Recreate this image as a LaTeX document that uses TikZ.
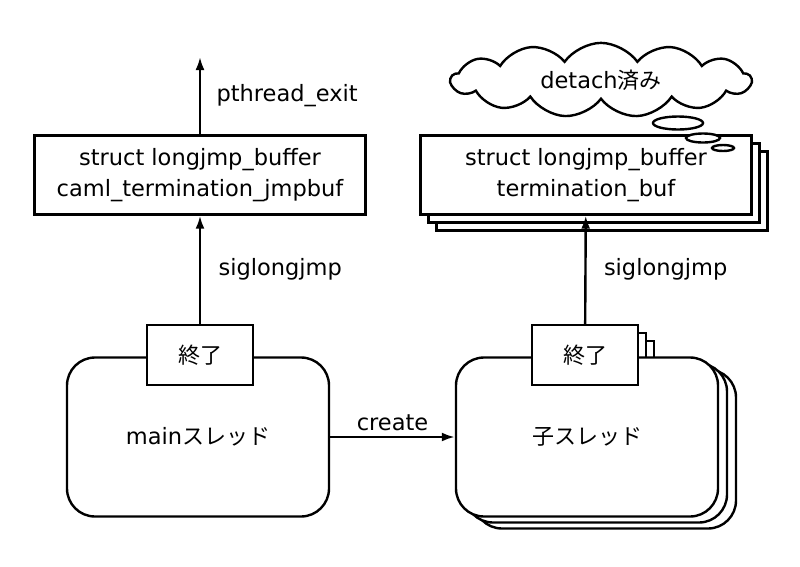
\documentclass[tikz,border=0pt]{standalone}
\usepackage{fontspec}
\setmainfont{DejaVu Sans}
\newfontfamily\jp{Noto Sans CJK JP}
\usetikzlibrary{arrows.meta, shapes.symbols, shapes.geometric, positioning}

\begin{document}
\begin{tikzpicture}[->,>={Latex[length=13pt,width=9pt]},x=1pt,y=-1pt,line width=2.4pt,
	every node/.style={font=\fontsize{22.5}{31}\selectfont},
	jtext/.style={font=\jp\fontsize{22}{31}\selectfont},
	buf/.style={draw,fill=white,minimum width=331pt,minimum height=79pt,align=center,inner sep=0pt},
	thr/.style={draw,fill=white,rounded corners=28pt,minimum width=262pt,minimum height=159pt},
	fin/.style={draw,fill=white,minimum width=106pt,minimum height=60pt,jtext},
	bubble/.style={draw,fill=white,ellipse,inner sep=0pt}]
			\useasboundingbox (0,0) rectangle (800,566);
			% main thread
			\node[thr] (mainT) at (198,437) {main{\jp\fontsize{22}{31}\selectfont スレッド}};
			\node[fin] (mainF) at (200,355) {終了};
			\node[buf] (mainB) at (200,175) {struct longjmp\_buffer\\caml\_termination\_jmpbuf};
			\coordinate (exit) at (200,57);
			% child threads
			\foreach \d in {2,1}
				\node[fin] (childF\d) at ({585+8*\d},{355+8*\d}) {};
			\foreach \d in {2,1}
				\node[thr] (childT\d) at ({587+9*\d},{437+6*\d}) {};
			\node[thr,jtext] (childT) at (587,437) {子スレッド};
			\node[fin] (childF) at (585,355) {終了};
			\foreach \d in {2,1}
				\node[buf] (childB\d) at ({586+8*\d},{175+8*\d}) {};
			\node[buf] (childB) at (586,175) {struct longjmp\_buffer\\termination\_buf};
			% detached
			\node[cloud,draw,cloud puffs=13,cloud puff arc=110,aspect=3.4,minimum width=300pt] (done) at (601,80) {detach{\jp\fontsize{22}{31}\selectfont 済み}};
			\node[bubble,minimum width=50pt,minimum height=13pt] (b1) at (678,123) {};
			\node[bubble,minimum width=34pt,minimum height=9pt] (b2) at (703,138) {};
			\node[bubble,minimum width=22pt,minimum height=6pt] (b3) at (723,148) {};
			% connectors
			\draw (mainF) -- (mainB) node[midway,right=14pt] {siglongjmp};
			\draw (mainB) -- (exit) node[midway,right=12pt] {pthread\_exit};
			\draw (childF) -- (childB) node[midway,right=14pt] {siglongjmp};
			\draw (mainT.east) -- (childT.west) node[midway,above=2pt] {create};
		\end{tikzpicture}
\end{document}
